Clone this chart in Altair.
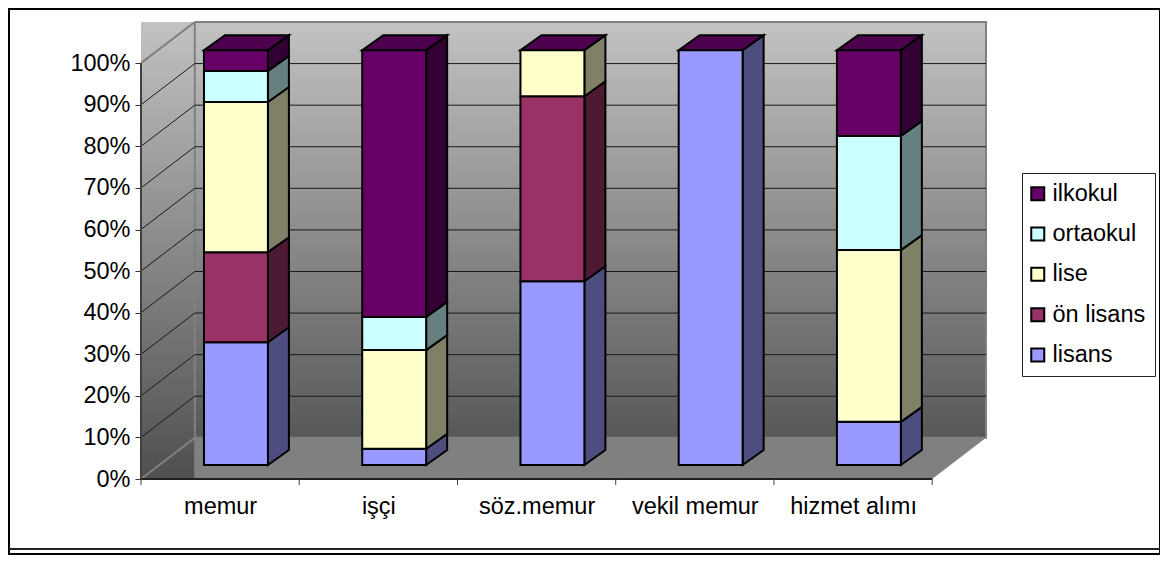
import altair as alt
import pandas as pd

categories = ["memur", "işçi", "söz.memur", "vekil memur", "hizmet alımı"]
series = ["lisans", "ön lisans", "lise", "ortaokul", "ilkokul"]
lisans = [29.6, 3.9, 44.3, 100, 10.4]
on_lisans = [21.7, 0, 44.6, 0, 0]
lise = [36.2, 23.8, 11.1, 0, 41.4]
ortaokul = [7.5, 8.0, 0, 0, 27.5]
ilkokul = [5.0, 64.3, 0, 0, 20.7]
values = [lisans, on_lisans, lise, ortaokul, ilkokul]

face_colors = ["#9999ff", "#993366", "#ffffcc", "#ccffff", "#660066"]
side_colors = ["#4d4d80", "#4d1a33", "#808066", "#668080", "#330033"]
top_color = "#4d004d"

W, H = 845, 457
X_MAX, Y_MAX = 5.34, 109.9
DX, DY = 0.34, 9.9           # depth of the walls, in axis units
BAR_LEFT, BAR_W = 0.398, 0.404
BAR_DX, BAR_DY = 0.1327, 3.6  # depth of a column
BAR_BASE, BAR_SCALE = 3.37, 0.9976
FONT = "Liberation Sans"
FONT_SIZE = 23.5

x_scale = alt.Scale(domain=[0, X_MAX], nice=False, zero=False)
y_scale = alt.Scale(domain=[0, Y_MAX], nice=False, zero=False)
x_axis = alt.Axis(
    values=[0.5, 1.5, 2.5, 3.5, 4.5], ticks=False, domain=False, grid=False, title=None,
    labelExpr="%s[floor(datum.value)]" % str(categories),
    labelFontSize=FONT_SIZE, labelFont=FONT, labelColor="#000000", labelPadding=15,
)
y_axis = alt.Axis(
    values=list(range(0, 101, 10)), domain=False, grid=False, title=None,
    labelExpr="datum.value + '%'", tickSize=6, tickColor="#333333", tickWidth=1,
    labelFontSize=FONT_SIZE, labelFont=FONT, labelColor="#000000", labelPadding=5,
)
X = alt.X("x:Q", scale=x_scale, axis=x_axis)
Y = alt.Y("y:Q", scale=y_scale, axis=y_axis)

front, faces = [], []
for c in range(len(categories)):
    x0 = c + BAR_LEFT
    x1 = x0 + BAR_W
    cum = 0.0
    for s, name in enumerate(series):
        v = values[s][c]
        if v <= 0:
            continue
        y0 = BAR_BASE + cum * BAR_SCALE
        cum += v
        y1 = BAR_BASE + cum * BAR_SCALE
        front.append(dict(x=x0, x2=x1, y=y0, y2=y1, series=name))
        fid = f"s{c}-{s}"
        faces.append(dict(x=x1, y=y0, y2=y1, face=fid, fill=side_colors[s]))
        faces.append(dict(x=x1 + BAR_DX, y=y0 + BAR_DY, y2=y1 + BAR_DY, face=fid, fill=side_colors[s]))
    y = BAR_BASE + cum * BAR_SCALE
    yb = y + BAR_DY
    fid = f"t{c}"
    for px, lo, hi in [(x0, y, y), (x0 + BAR_DX, y, yb), (x1, y, yb), (x1 + BAR_DX, yb, yb)]:
        faces.append(dict(x=px, y=lo, y2=hi, face=fid, fill=top_color))
front = pd.DataFrame(front)
faces = pd.DataFrame(faces)


def gradient(bottom):
    return alt.LinearGradient(
        gradient="linear", x1=0, x2=0, y1=0, y2=1,
        stops=[alt.GradientStop(color="#c2c2c2", offset=0), alt.GradientStop(color=bottom, offset=1)],
    )


one = pd.DataFrame({"a": [0]})
frame = alt.Chart(one).mark_rect(fill="white", fillOpacity=0, stroke="black", strokeWidth=2).encode(
    x=alt.value(-132), x2=alt.value(1019), y=alt.value(-13), y2=alt.value(532)
)
frame_line = alt.Chart(one).mark_rule(color="#222222", strokeWidth=2).encode(
    x=alt.value(-132), x2=alt.value(1019), y=alt.value(527)
)

left_wall = alt.Chart(pd.DataFrame({"x": [0, DX], "y": [0, 0], "y2": [Y_MAX, Y_MAX]})).mark_area(
    color=gradient("#4f4f4f"), orient="vertical"
).encode(x=X, y=Y, y2="y2:Q")
back_wall = alt.Chart(pd.DataFrame({"x": [DX, X_MAX], "y": [DY, DY], "y2": [Y_MAX, Y_MAX]})).mark_area(
    color=gradient("#585858"), orient="vertical"
).encode(x=X, y=Y, y2="y2:Q")
floor = alt.Chart(pd.DataFrame({"x": [DX, 5, 5 + DX], "y": [0, 0, DY], "y2": [DY, DY, DY]})).mark_area(
    color="#808080", orient="vertical"
).encode(x=X, y=Y, y2="y2:Q")

levels = list(range(10, 100, 10))
grid_back = alt.Chart(pd.DataFrame({"level": levels})).transform_calculate(
    y=f"datum.level + {DY}", x=f"{DX}", x2=f"{X_MAX}"
).mark_rule(color="#1a1a1a", strokeWidth=1).encode(x=X, x2="x2:Q", y=Y)
grid_left = alt.Chart(pd.DataFrame(
    [dict(level=l, x=0, y=l) for l in levels] + [dict(level=l, x=DX, y=l + DY) for l in levels]
)).mark_line(color="#1a1a1a", strokeWidth=1).encode(x=X, y=Y, detail="level:N")
edge_left = alt.Chart(pd.DataFrame(
    [dict(level=l, x=0, y=l) for l in (0, 100)] + [dict(level=l, x=DX, y=l + DY) for l in (0, 100)]
)).mark_line(color="#808080", strokeWidth=2).encode(x=X, y=Y, detail="level:N")
edge_top = alt.Chart(pd.DataFrame({"x": [DX, X_MAX, X_MAX, DX, DX], "y": [Y_MAX, Y_MAX, DY, DY, Y_MAX], "o": range(5)})).mark_line(
    color="#808080", strokeWidth=2
).encode(x=X, y=Y, order="o:Q")

axis_y = alt.Chart(pd.DataFrame({"x": [0], "y": [0], "y2": [100]})).mark_rule(color="#404040", strokeWidth=2).encode(
    x=X, y=Y, y2="y2:Q"
)
axis_x = alt.Chart(pd.DataFrame({"x": [0], "x2": [5], "y": [0]})).mark_rule(color="#202020", strokeWidth=2).encode(
    x=X, x2="x2:Q", y=Y
)
ticks_x = alt.Chart(pd.DataFrame({"x": list(range(6))})).mark_rule(color="#404040", strokeWidth=1).encode(
    x=X, y=alt.value(H), y2=alt.value(H + 6)
)

side_top = alt.Chart(faces).mark_area(stroke="black", strokeWidth=2, orient="vertical").encode(
    x=X, y=Y, y2="y2:Q", fill=alt.Fill("fill:N", scale=None), detail="face:N"
)
front_faces = alt.Chart(front).mark_rect(stroke="black", strokeWidth=2).encode(
    x=X, x2="x2:Q", y=Y, y2="y2:Q",
    color=alt.Color(
        "series:N",
        scale=alt.Scale(domain=series[::-1], range=face_colors[::-1]),
        legend=alt.Legend(
            title=None, orient="none", legendX=881, legendY=151,
            fillColor="white", strokeColor="#222222", padding=9,
            symbolType="square", symbolSize=169, symbolStrokeColor="black", symbolStrokeWidth=2,
            symbolOffset=-5, labelFontSize=FONT_SIZE, labelFont=FONT, labelColor="#000000",
            rowPadding=15.3, labelOffset=3, labelLimit=200,
        ),
    ),
)

chart = alt.layer(
    frame, frame_line, left_wall, back_wall, floor, edge_top, edge_left, grid_back, grid_left,
    axis_y, axis_x, ticks_x, side_top, front_faces,
).properties(
    width=W, height=H,
    padding={"left": 133, "top": 14, "right": 174, "bottom": 76},
    autosize=alt.AutoSizeParams(type="none"),
).configure_view(stroke=None)

chart.save("out.html", embed_options={"renderer": "svg", "actions": False})
